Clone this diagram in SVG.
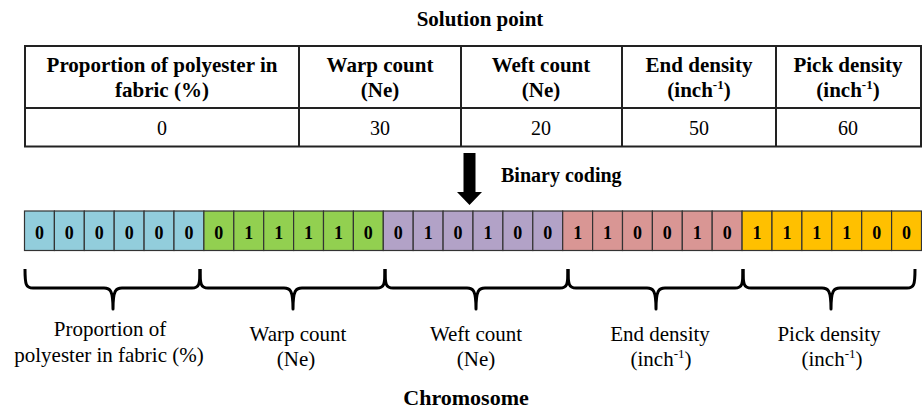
<svg xmlns="http://www.w3.org/2000/svg" width="922" height="410" viewBox="0 0 922 410">
<defs>
<rect id="cellshape" width="29.9" height="39.5"/>
</defs>
<rect width="922" height="410" fill="#fff"/>
<g id="title">
<text font-family="Liberation Serif" font-weight="bold" font-size="21" text-anchor="middle" x="480" y="26">Solution point</text>
</g>
<g id="table">
<g fill="none" stroke="#222" stroke-width="2">
<rect x="25" y="46" width="896" height="100.5"/>
<line x1="25" y1="108" x2="921" y2="108"/>
<line x1="299" y1="46" x2="299" y2="146.5"/>
<line x1="461" y1="46" x2="461" y2="146.5"/>
<line x1="622" y1="46" x2="622" y2="146.5"/>
<line x1="776" y1="46" x2="776" y2="146.5"/>
</g>
<text font-family="Liberation Serif" font-weight="bold" font-size="21" text-anchor="middle" x="162" y="72">Proportion of polyester in</text>
<text font-family="Liberation Serif" font-weight="bold" font-size="21" text-anchor="middle" x="162" y="97">fabric (%)</text>
<text font-family="Liberation Serif" font-weight="bold" font-size="21" text-anchor="middle" x="380" y="72">Warp count</text>
<text font-family="Liberation Serif" font-weight="bold" font-size="21" text-anchor="middle" x="380" y="97">(Ne)</text>
<text font-family="Liberation Serif" font-weight="bold" font-size="21" text-anchor="middle" x="541" y="72">Weft count</text>
<text font-family="Liberation Serif" font-weight="bold" font-size="21" text-anchor="middle" x="541" y="97">(Ne)</text>
<text font-family="Liberation Serif" font-weight="bold" font-size="21" text-anchor="middle" x="699" y="72">End density</text>
<text font-family="Liberation Serif" font-weight="bold" font-size="21" text-anchor="middle" x="699" y="97">(inch<tspan font-size="13" dy="-8">-1</tspan><tspan dy="8">)</tspan></text>
<text font-family="Liberation Serif" font-weight="bold" font-size="21" text-anchor="middle" x="848" y="72">Pick density</text>
<text font-family="Liberation Serif" font-weight="bold" font-size="21" text-anchor="middle" x="848" y="97">(inch<tspan font-size="13" dy="-8">-1</tspan><tspan dy="8">)</tspan></text>
<text font-family="Liberation Serif" font-size="20" text-anchor="middle" x="162" y="135">0</text>
<text font-family="Liberation Serif" font-size="20" text-anchor="middle" x="380" y="135">30</text>
<text font-family="Liberation Serif" font-size="20" text-anchor="middle" x="541" y="135">20</text>
<text font-family="Liberation Serif" font-size="20" text-anchor="middle" x="699" y="135">50</text>
<text font-family="Liberation Serif" font-size="20" text-anchor="middle" x="848" y="135">60</text>
</g>
<g id="connectors">
<polygon points="463.5,153 475.5,153 475.5,192 482,192 469.5,205 457,192 463.5,192" fill="#000"/>
</g>
<g id="coding-label">
<text font-family="Liberation Serif" font-weight="bold" font-size="20" x="501" y="182">Binary coding</text>
</g>
<g id="gene-polyester">
<g fill="#92CDDC" stroke="#333" stroke-width="1.2">
<use href="#cellshape" x="24.5" y="211"/>
<use href="#cellshape" x="54.4" y="211"/>
<use href="#cellshape" x="84.3" y="211"/>
<use href="#cellshape" x="114.2" y="211"/>
<use href="#cellshape" x="144.1" y="211"/>
<use href="#cellshape" x="174.0" y="211"/>
</g>
<text font-family="Liberation Serif" font-weight="bold" font-size="18" text-anchor="middle" x="39.45" y="239">0</text>
<text font-family="Liberation Serif" font-weight="bold" font-size="18" text-anchor="middle" x="69.35" y="239">0</text>
<text font-family="Liberation Serif" font-weight="bold" font-size="18" text-anchor="middle" x="99.25" y="239">0</text>
<text font-family="Liberation Serif" font-weight="bold" font-size="18" text-anchor="middle" x="129.15" y="239">0</text>
<text font-family="Liberation Serif" font-weight="bold" font-size="18" text-anchor="middle" x="159.05" y="239">0</text>
<text font-family="Liberation Serif" font-weight="bold" font-size="18" text-anchor="middle" x="188.95" y="239">0</text>
</g>
<g id="gene-warp">
<g fill="#92D050" stroke="#333" stroke-width="1.2">
<use href="#cellshape" x="203.9" y="211"/>
<use href="#cellshape" x="233.8" y="211"/>
<use href="#cellshape" x="263.7" y="211"/>
<use href="#cellshape" x="293.6" y="211"/>
<use href="#cellshape" x="323.5" y="211"/>
<use href="#cellshape" x="353.4" y="211"/>
</g>
<text font-family="Liberation Serif" font-weight="bold" font-size="18" text-anchor="middle" x="218.85" y="239">0</text>
<text font-family="Liberation Serif" font-weight="bold" font-size="18" text-anchor="middle" x="248.75" y="239">1</text>
<text font-family="Liberation Serif" font-weight="bold" font-size="18" text-anchor="middle" x="278.65" y="239">1</text>
<text font-family="Liberation Serif" font-weight="bold" font-size="18" text-anchor="middle" x="308.55" y="239">1</text>
<text font-family="Liberation Serif" font-weight="bold" font-size="18" text-anchor="middle" x="338.45" y="239">1</text>
<text font-family="Liberation Serif" font-weight="bold" font-size="18" text-anchor="middle" x="368.35" y="239">0</text>
</g>
<g id="gene-weft">
<g fill="#B2A2C7" stroke="#333" stroke-width="1.2">
<use href="#cellshape" x="383.3" y="211"/>
<use href="#cellshape" x="413.2" y="211"/>
<use href="#cellshape" x="443.1" y="211"/>
<use href="#cellshape" x="473.0" y="211"/>
<use href="#cellshape" x="502.9" y="211"/>
<use href="#cellshape" x="532.8" y="211"/>
</g>
<text font-family="Liberation Serif" font-weight="bold" font-size="18" text-anchor="middle" x="398.25" y="239">0</text>
<text font-family="Liberation Serif" font-weight="bold" font-size="18" text-anchor="middle" x="428.15" y="239">1</text>
<text font-family="Liberation Serif" font-weight="bold" font-size="18" text-anchor="middle" x="458.05" y="239">0</text>
<text font-family="Liberation Serif" font-weight="bold" font-size="18" text-anchor="middle" x="487.95" y="239">1</text>
<text font-family="Liberation Serif" font-weight="bold" font-size="18" text-anchor="middle" x="517.85" y="239">0</text>
<text font-family="Liberation Serif" font-weight="bold" font-size="18" text-anchor="middle" x="547.75" y="239">0</text>
</g>
<g id="gene-end">
<g fill="#D99694" stroke="#333" stroke-width="1.2">
<use href="#cellshape" x="562.7" y="211"/>
<use href="#cellshape" x="592.6" y="211"/>
<use href="#cellshape" x="622.5" y="211"/>
<use href="#cellshape" x="652.4" y="211"/>
<use href="#cellshape" x="682.3" y="211"/>
<use href="#cellshape" x="712.2" y="211"/>
</g>
<text font-family="Liberation Serif" font-weight="bold" font-size="18" text-anchor="middle" x="577.65" y="239">1</text>
<text font-family="Liberation Serif" font-weight="bold" font-size="18" text-anchor="middle" x="607.55" y="239">1</text>
<text font-family="Liberation Serif" font-weight="bold" font-size="18" text-anchor="middle" x="637.45" y="239">0</text>
<text font-family="Liberation Serif" font-weight="bold" font-size="18" text-anchor="middle" x="667.35" y="239">0</text>
<text font-family="Liberation Serif" font-weight="bold" font-size="18" text-anchor="middle" x="697.25" y="239">1</text>
<text font-family="Liberation Serif" font-weight="bold" font-size="18" text-anchor="middle" x="727.15" y="239">0</text>
</g>
<g id="gene-pick">
<g fill="#FFC000" stroke="#333" stroke-width="1.2">
<use href="#cellshape" x="742.1" y="211"/>
<use href="#cellshape" x="772.0" y="211"/>
<use href="#cellshape" x="801.9" y="211"/>
<use href="#cellshape" x="831.8" y="211"/>
<use href="#cellshape" x="861.7" y="211"/>
<use href="#cellshape" x="891.6" y="211"/>
</g>
<text font-family="Liberation Serif" font-weight="bold" font-size="18" text-anchor="middle" x="757.05" y="239">1</text>
<text font-family="Liberation Serif" font-weight="bold" font-size="18" text-anchor="middle" x="786.95" y="239">1</text>
<text font-family="Liberation Serif" font-weight="bold" font-size="18" text-anchor="middle" x="816.85" y="239">1</text>
<text font-family="Liberation Serif" font-weight="bold" font-size="18" text-anchor="middle" x="846.75" y="239">1</text>
<text font-family="Liberation Serif" font-weight="bold" font-size="18" text-anchor="middle" x="876.65" y="239">0</text>
<text font-family="Liberation Serif" font-weight="bold" font-size="18" text-anchor="middle" x="906.55" y="239">0</text>
</g>
<g id="braces" fill="none" stroke="#000" stroke-width="3" stroke-linejoin="round">
<path d="M25,269 C25,285 26,288 33,288 L104,288 C110,288 113,290 113,309 C113,290 116,288 122,288 L192,288 C199,288 200,285 200,269"/>
<path d="M200,269 C200,285 201,288 208,288 L284,288 C290,288 293,290 293,309 C293,290 296,288 302,288 L377,288 C384,288 385,285 385,269"/>
<path d="M385,269 C385,285 386,288 393,288 L467,288 C473,288 476,290 476,309 C476,290 479,288 485,288 L560,288 C567,288 568,285 568,269"/>
<path d="M568,269 C568,285 569,288 576,288 L647,288 C653,288 656,290 656,309 C656,290 659,288 665,288 L735,288 C742,288 743,285 743,269"/>
<path d="M743,269 C743,285 744,288 751,288 L822,288 C828,288 831,290 831,309 C831,290 834,288 840,288 L907,288 C914,288 915,285 915,269"/>
</g>
<g id="labels">
<text font-family="Liberation Serif" font-size="21" text-anchor="middle" x="110" y="336">Proportion of</text>
<text font-family="Liberation Serif" font-size="21" text-anchor="middle" x="109" y="362">polyester in fabric (%)</text>
<text font-family="Liberation Serif" font-size="21" text-anchor="middle" x="298" y="341">Warp count</text>
<text font-family="Liberation Serif" font-size="21" text-anchor="middle" x="296" y="366">(Ne)</text>
<text font-family="Liberation Serif" font-size="21" text-anchor="middle" x="476" y="341">Weft count</text>
<text font-family="Liberation Serif" font-size="21" text-anchor="middle" x="476" y="366">(Ne)</text>
<text font-family="Liberation Serif" font-size="21" text-anchor="middle" x="660" y="341">End density</text>
<text font-family="Liberation Serif" font-size="21" text-anchor="middle" x="661" y="366">(inch<tspan font-size="13" dy="-8">-1</tspan><tspan dy="8">)</tspan></text>
<text font-family="Liberation Serif" font-size="21" text-anchor="middle" x="829" y="341">Pick density</text>
<text font-family="Liberation Serif" font-size="21" text-anchor="middle" x="832" y="366">(inch<tspan font-size="13" dy="-8">-1</tspan><tspan dy="8">)</tspan></text>
</g>
<g id="chromosome-label">
<text font-family="Liberation Serif" font-weight="bold" font-size="22" text-anchor="middle" x="466" y="405">Chromosome</text>
</g>
</svg>
